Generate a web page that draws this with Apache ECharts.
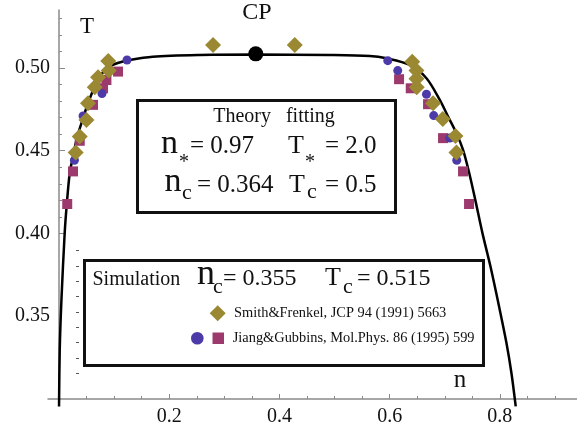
<!DOCTYPE html>
<html>
<head>
<meta charset="utf-8">
<script src="https://cdn.jsdelivr.net/npm/echarts@6/dist/echarts.min.js"></script>
<style>
  html, body { margin: 0; padding: 0; background: #fff; }
  #chart { width: 577px; height: 433px; }
</style>
</head>
<body>
<div id="chart"></div>
<script>
// Theory coexistence curve (density n, temperature T)
const curveN = [0.000, 0.0013, 0.0044, 0.0103, 0.0140, 0.0194, 0.0254, 0.0316, 0.0407, 0.0526, 0.0679, 0.0860, 0.1065, 0.1283, 0.1701, 0.2553, 0.3570, 0.4913, 0.5639, 0.5942, 0.6365, 0.6668, 0.6910, 0.7060, 0.7212, 0.7332, 0.7445, 0.7554, 0.7684, 0.7830, 0.7998, 0.8120, 0.8210, 0.8288];
const curveT = [0.2955, 0.3298, 0.3600, 0.4004, 0.4173, 0.4364, 0.4464, 0.4565, 0.4666, 0.4787, 0.4908, 0.4998, 0.5030, 0.5048, 0.5068, 0.5078, 0.5081, 0.5078, 0.5072, 0.5058, 0.5018, 0.4938, 0.4807, 0.4706, 0.4606, 0.4505, 0.4364, 0.4203, 0.4002, 0.3800, 0.3539, 0.3338, 0.3157, 0.2955];

// Critical point
const cpN = 0.357;
const cpT = 0.5085;

// Smith & Frenkel simulation points
const smithN = [0.0303, 0.0376, 0.0497, 0.0526, 0.0648, 0.0708, 0.0902, 0.0893, 0.2795, 0.4278, 0.6410, 0.6486, 0.6486, 0.6492, 0.6788, 0.6964, 0.7194, 0.7212];
const smithT = [0.4489, 0.4586, 0.4686, 0.4786, 0.4883, 0.4943, 0.4984, 0.5042, 0.5139, 0.5139, 0.5038, 0.4984, 0.4935, 0.4883, 0.4786, 0.4692, 0.4589, 0.4489];

// Jiang & Gubbins simulation points (circles and squares)
const jgCircN = [0.0279, 0.0436, 0.0780, 0.1234, 0.5966, 0.6147, 0.6668, 0.6800, 0.7091, 0.7218];
const jgCircT = [0.4442, 0.4710, 0.4845, 0.5048, 0.5044, 0.4984, 0.4841, 0.4712, 0.4576, 0.4442];
const jgSqN = [0.0149, 0.0254, 0.0376, 0.0617, 0.0799, 0.0860, 0.1071, 0.6171, 0.6383, 0.6697, 0.6969, 0.7332, 0.7441];
const jgSqT = [0.4178, 0.4375, 0.4560, 0.4777, 0.4877, 0.4927, 0.4978, 0.4932, 0.4877, 0.4781, 0.4576, 0.4375, 0.4178];

// Tick labels
const xLabels = [0.2, 0.4, 0.6, 0.8];
const yLabels = [0.35, 0.40, 0.45, 0.50];
const xMinorTicks = [0.05, 0.10, 0.15, 0.20, 0.25, 0.30, 0.35, 0.40, 0.45, 0.50, 0.55, 0.60, 0.65, 0.70, 0.75, 0.80, 0.85, 0.90];
const yMinorTicks = [0.40, 0.41, 0.42, 0.43, 0.44, 0.45, 0.46, 0.47, 0.48, 0.49, 0.50, 0.51, 0.52, 0.53];
const yMajorTicks = [0.40, 0.45, 0.50];
// stray tick column beside the simulation box
const stubTicks = [0.3901, 0.3804, 0.3714, 0.3623, 0.3526, 0.3432, 0.3341, 0.3246, 0.3154];

const zip = (a, b) => a.map((v, i) => [v, b[i]]);

const SERIF = '"Liberation Serif", "Times New Roman", serif';
const axisGray = '#8a8a8a';
const cGold = '#9a8833';
const cBlue = '#4b3aa8';
const cMag = '#9c3a6e';

function txt(x, y, s, size, align) {
  return {
    type: 'text', x: x, y: y, z: 20,
    style: { text: s, fill: '#111', font: size + 'px ' + SERIF, textAlign: align || 'left', textVerticalAlign: 'middle' }
  };
}

const chart = echarts.init(document.getElementById('chart'), null, { renderer: 'canvas' });

const X_MIN = -0.02;
const X_MAX = 0.94;
const GRID_LEFT = 48;
const GRID_W = 577 - GRID_LEFT;
// the T axis stands at n = 0, a little inside the plot's left edge
const yAxisShift = -(0 - X_MIN) / (X_MAX - X_MIN) * GRID_W;

const baseX = {
  type: 'value', min: X_MIN, max: X_MAX, position: 'bottom',
  axisLine: { onZero: false, lineStyle: { color: axisGray, width: 1.5 } },
  splitLine: { show: false }
};
const baseY = {
  type: 'value', min: 0.30, max: 0.535, position: 'left',
  splitLine: { show: false }
};

chart.setOption({
  animation: false,
  backgroundColor: '#fff',
  grid: { left: GRID_LEFT, right: 0, top: 10, bottom: 34, containLabel: false },
  xAxis: [
    Object.assign({}, baseX, {
      axisTick: { show: true, inside: true, length: 3, customValues: xMinorTicks, lineStyle: { color: axisGray } },
      axisLabel: { customValues: xLabels, formatter: v => v.toFixed(1), fontFamily: SERIF, fontSize: 20, color: '#111', margin: 8 }
    }),
    Object.assign({}, baseX, {
      axisLine: { show: false, onZero: false },
      axisTick: { show: true, inside: true, length: 5, customValues: xLabels, lineStyle: { color: axisGray } },
      axisLabel: { show: false }
    })
  ],
  yAxis: [
    Object.assign({}, baseY, {
      offset: yAxisShift,
      axisLine: { show: true, onZero: false, lineStyle: { color: axisGray, width: 1.5 } },
      axisTick: { show: true, inside: true, length: 3, customValues: yMinorTicks, lineStyle: { color: axisGray } },
      axisLabel: { customValues: yLabels, formatter: v => v.toFixed(2), fontFamily: SERIF, fontSize: 20, color: '#111', margin: 9 }
    }),
    Object.assign({}, baseY, {
      offset: yAxisShift,
      axisLine: { show: false, onZero: false },
      axisTick: { show: true, inside: true, length: 6, customValues: yMajorTicks, lineStyle: { color: axisGray } },
      axisLabel: { show: false }
    }),
    Object.assign({}, baseY, {
      offset: -28,
      axisLine: { show: false, onZero: false },
      axisTick: { show: true, inside: true, length: 3, customValues: stubTicks, lineStyle: { color: '#555' } },
      axisLabel: { show: false }
    })
  ],
  series: [
    {
      name: 'theory', type: 'line', data: zip(curveN, curveT), showSymbol: false, smooth: 0.3,
      clip: false, lineStyle: { color: '#000', width: 2.5 }, z: 2
    },
    {
      name: 'Jiang&Gubbins squares', type: 'scatter', data: zip(jgSqN, jgSqT), symbol: 'rect', symbolSize: 10,
      itemStyle: { color: cMag, opacity: 1 }, z: 3
    },
    {
      name: 'Jiang&Gubbins circles', type: 'scatter', data: zip(jgCircN, jgCircT), symbol: 'circle', symbolSize: 9,
      itemStyle: { color: cBlue, opacity: 1 }, z: 4
    },
    {
      name: 'Smith&Frenkel', type: 'scatter', data: zip(smithN, smithT), symbol: 'diamond', symbolSize: 16,
      itemStyle: { color: cGold, opacity: 1 }, z: 5
    },
    {
      name: 'CP', type: 'scatter', data: [[cpN, cpT]], symbol: 'circle', symbolSize: 15,
      itemStyle: { color: '#000', opacity: 1 }, z: 6
    }
  ],
  graphic: [
    // axis names and critical point label
    txt(87, 27, 'T', 23, 'center'),
    txt(460, 380, 'n', 25, 'center'),
    txt(257, 13, 'CP', 24, 'center'),

    // theory box
    { type: 'rect', z: 15, shape: { x: 137.5, y: 100.5, width: 258, height: 112 }, style: { fill: '#fff', stroke: '#111', lineWidth: 3 } },
    txt(274, 117, 'Theory   fitting', 20, 'center'),
    txt(161, 143.6, 'n', 34),
    txt(179, 163, '*', 20),
    txt(190, 146.6, '= 0.97', 25),
    txt(288, 146.6, 'T', 26),
    txt(305, 163, '*', 20),
    txt(325, 146.6, '= 2.0', 25),
    txt(164.5, 181.9, 'n', 34),
    txt(182, 193, 'c', 22),
    txt(197, 185, '= 0.364', 25),
    txt(289, 185, 'T', 26),
    txt(307, 192, 'c', 22),
    txt(325, 185, '= 0.5', 25),

    // simulation box
    { type: 'rect', z: 15, shape: { x: 84.5, y: 260.5, width: 399, height: 105 }, style: { fill: '#fff', stroke: '#111', lineWidth: 3 } },
    txt(92.5, 280, 'Simulation', 20),
    txt(197, 274.7, 'n', 36),
    txt(213, 287.6, 'c', 22),
    txt(223, 278.7, '= 0.355', 24),
    txt(325, 278.5, 'T', 26),
    txt(343, 287.6, 'c', 22),
    txt(357, 278.7, '= 0.515', 24),
    { type: 'polygon', z: 20, shape: { points: [[217.7, 305.3], [225.7, 313.3], [217.7, 321.3], [209.7, 313.3]] }, style: { fill: cGold } },
    txt(234, 313.3, 'Smith&Frenkel, JCP 94 (1991) 5663', 14.4),
    { type: 'circle', z: 20, shape: { cx: 197.3, cy: 338.3, r: 6.3 }, style: { fill: cBlue } },
    { type: 'rect', z: 20, shape: { x: 212.5, y: 332.5, width: 11.5, height: 11.5 }, style: { fill: cMag } },
    txt(232.7, 338.3, 'Jiang&Gubbins, Mol.Phys. 86 (1995) 599', 14.4)
  ]
});
</script>
</body>
</html>
